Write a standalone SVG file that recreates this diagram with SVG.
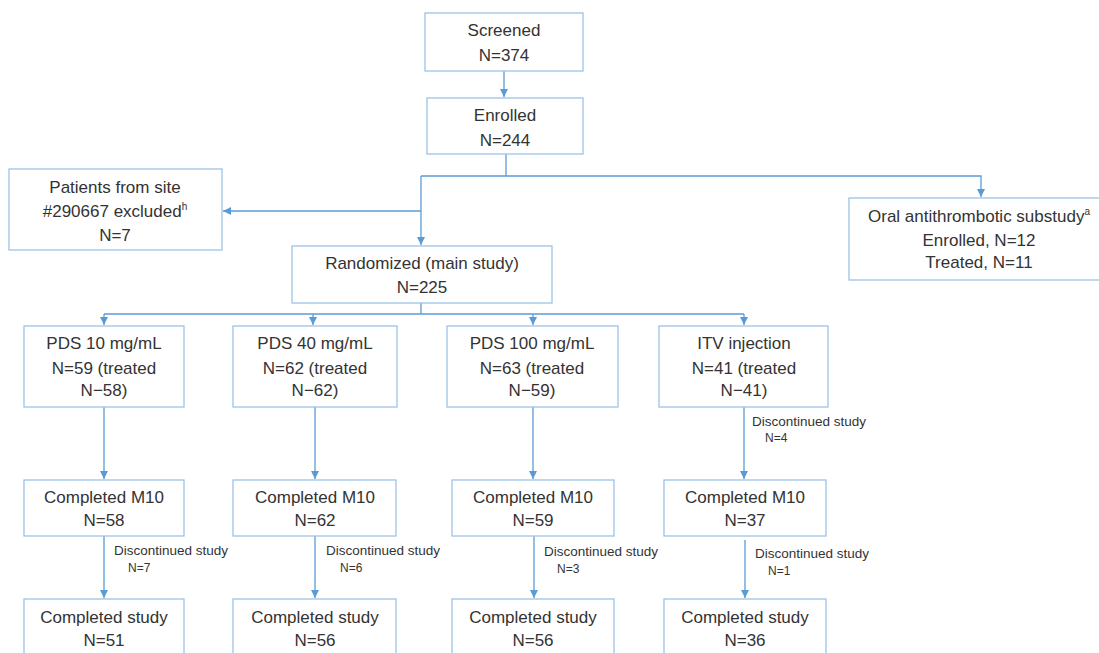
<svg xmlns="http://www.w3.org/2000/svg" width="1099" height="653" viewBox="0 0 1099 653">
<style>
.box{fill:#fff;stroke:#9DC3E6;stroke-width:1.3}
.t{font-family:"Liberation Sans",Arial,sans-serif;font-size:17px;fill:#333;text-anchor:middle}
.s{font-family:"Liberation Sans",Arial,sans-serif;font-size:13.5px;fill:#333}
.n{font-size:12px}
.c{fill:none;stroke:#5B9BD5;stroke-width:1.3}
.sup{font-size:10px}
</style>
<defs>
<marker id="ah" markerUnits="userSpaceOnUse" markerWidth="8" markerHeight="8" refX="8" refY="4" orient="auto">
<path d="M0,0 L8,4 L0,8 z" fill="#5B9BD5"/>
</marker>
</defs>
<rect width="1099" height="653" fill="#fff"/>
<g id="connectors">
<path class="c" d="M504,71 V97" marker-end="url(#ah)"/>
<path class="c" d="M506,154 V176"/>
<path class="c" d="M421,176 H981 V197" marker-end="url(#ah)"/>
<path class="c" d="M421,176 V245" marker-end="url(#ah)"/>
<path class="c" d="M421,211 H223" marker-end="url(#ah)"/>
<path class="c" d="M421,303 V314"/>
<path class="c" d="M104,314 H744"/>
<path class="c" d="M104,314 V325" marker-end="url(#ah)"/>
<path class="c" d="M313,314 V325" marker-end="url(#ah)"/>
<path class="c" d="M533,314 V325" marker-end="url(#ah)"/>
<path class="c" d="M744,314 V325" marker-end="url(#ah)"/>
<path class="c" d="M104,407 V479" marker-end="url(#ah)"/>
<path class="c" d="M315,407 V479" marker-end="url(#ah)"/>
<path class="c" d="M533,407 V479" marker-end="url(#ah)"/>
<path class="c" d="M744,407 V479" marker-end="url(#ah)"/>
<path class="c" d="M104,536 V598" marker-end="url(#ah)"/>
<path class="c" d="M315,536 V598" marker-end="url(#ah)"/>
<path class="c" d="M534,536 V598" marker-end="url(#ah)"/>
<path class="c" d="M745,540 V598" marker-end="url(#ah)"/>
</g>
<g id="screened">
<rect class="box" x="425" y="13" width="158" height="58"/>
<text class="t" x="504" y="36">Screened</text>
<text class="t" x="504" y="61">N=374</text>
</g>
<g id="enrolled">
<rect class="box" x="427" y="98" width="156" height="56"/>
<text class="t" x="505" y="121">Enrolled</text>
<text class="t" x="505" y="146">N=244</text>
</g>
<g id="excluded">
<rect class="box" x="9" y="169" width="213" height="81"/>
<text class="t" x="115" y="193">Patients from site</text>
<text class="t" x="115" y="217">#290667 excluded<tspan class="sup" dy="-7">h</tspan></text>
<text class="t" x="115" y="241">N=7</text>
</g>
<g id="substudy">
<rect class="box" x="849" y="198" width="262" height="82"/>
<text class="t" x="979" y="222">Oral antithrombotic substudy<tspan class="sup" dy="-7">a</tspan></text>
<text class="t" x="979" y="246">Enrolled, N=12</text>
<text class="t" x="979" y="268">Treated, N=11</text>
</g>
<g id="randomized">
<rect class="box" x="292" y="246" width="260" height="57"/>
<text class="t" x="422" y="269">Randomized (main study)</text>
<text class="t" x="422" y="293">N=225</text>
</g>
<g id="pds10">
<rect class="box" x="24" y="326" width="160" height="81"/>
<text class="t" x="104" y="349">PDS 10 mg/mL</text>
<text class="t" x="104" y="374">N=59 (treated</text>
<text class="t" x="104" y="396">N−58)</text>
</g>
<g id="pds40">
<rect class="box" x="233" y="326" width="164" height="81"/>
<text class="t" x="315" y="349">PDS 40 mg/mL</text>
<text class="t" x="315" y="374">N=62 (treated</text>
<text class="t" x="315" y="396">N−62)</text>
</g>
<g id="pds100">
<rect class="box" x="447" y="326" width="171" height="81"/>
<text class="t" x="532" y="349">PDS 100 mg/mL</text>
<text class="t" x="532" y="374">N=63 (treated</text>
<text class="t" x="532" y="396">N−59)</text>
</g>
<g id="itv">
<rect class="box" x="659" y="326" width="169" height="81"/>
<text class="t" x="744" y="349">ITV injection</text>
<text class="t" x="744" y="374">N=41 (treated</text>
<text class="t" x="744" y="396">N−41)</text>
</g>
<g id="itv-disc">
<text class="s" x="752" y="426">Discontinued study</text>
<text class="s n" x="765" y="442">N=4</text>
</g>
<g id="m10-pds10">
<rect class="box" x="24" y="480" width="160" height="56"/>
<text class="t" x="104" y="503">Completed M10</text>
<text class="t" x="104" y="526">N=58</text>
</g>
<g id="m10-pds40">
<rect class="box" x="233" y="480" width="163" height="56"/>
<text class="t" x="315" y="503">Completed M10</text>
<text class="t" x="315" y="526">N=62</text>
</g>
<g id="m10-pds100">
<rect class="box" x="452" y="480" width="162" height="56"/>
<text class="t" x="533" y="503">Completed M10</text>
<text class="t" x="533" y="526">N=59</text>
</g>
<g id="m10-itv">
<rect class="box" x="664" y="480" width="162" height="56"/>
<text class="t" x="745" y="503">Completed M10</text>
<text class="t" x="745" y="526">N=37</text>
</g>
<g id="disc-pds10">
<text class="s" x="114" y="555">Discontinued study</text>
<text class="s n" x="128" y="572">N=7</text>
</g>
<g id="disc-pds40">
<text class="s" x="326" y="555">Discontinued study</text>
<text class="s n" x="340" y="572">N=6</text>
</g>
<g id="disc-pds100">
<text class="s" x="544" y="556">Discontinued study</text>
<text class="s n" x="557" y="573">N=3</text>
</g>
<g id="disc-itv">
<text class="s" x="755" y="558">Discontinued study</text>
<text class="s n" x="768" y="575">N=1</text>
</g>
<g id="done-pds10">
<rect class="box" x="24" y="599" width="160" height="62"/>
<text class="t" x="104" y="623">Completed study</text>
<text class="t" x="104" y="646">N=51</text>
</g>
<g id="done-pds40">
<rect class="box" x="233" y="599" width="163" height="62"/>
<text class="t" x="315" y="623">Completed study</text>
<text class="t" x="315" y="646">N=56</text>
</g>
<g id="done-pds100">
<rect class="box" x="452" y="599" width="162" height="62"/>
<text class="t" x="533" y="623">Completed study</text>
<text class="t" x="533" y="646">N=56</text>
</g>
<g id="done-itv">
<rect class="box" x="664" y="599" width="162" height="62"/>
<text class="t" x="745" y="623">Completed study</text>
<text class="t" x="745" y="646">N=36</text>
</g>
</svg>
